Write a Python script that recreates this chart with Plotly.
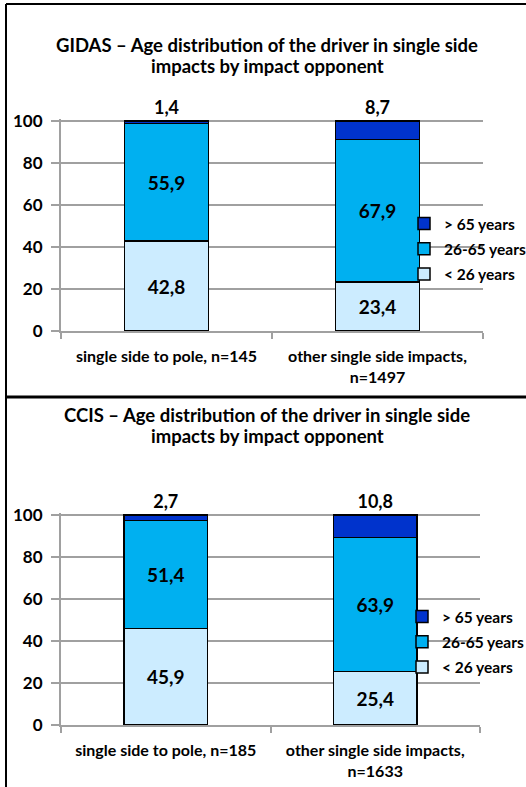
import plotly.graph_objects as go

W, H = 526, 787

categories_gidas = ["single side to pole, n=145", "other single side impacts,<br>n=1497"]
categories_ccis = ["single side to pole, n=185", "other single side impacts,<br>n=1633"]
series_names = ["< 26 years", "26-65 years", "> 65 years"]
gidas_young = [42.8, 23.4]
gidas_mid = [55.9, 67.9]
gidas_old = [1.4, 8.7]
ccis_young = [45.9, 25.4]
ccis_mid = [51.4, 63.9]
ccis_old = [2.7, 10.8]
colors = ["#CCECFF", "#00B0F0", "#0033CC"]
title_lines = [
    ("GIDAS – Age distribution of the driver in single side", "impacts by impact opponent"),
    ("CCIS – Age distribution of the driver in single side", "impacts by impact opponent"),
]

FONT = "Lato"

def px_x(p):
    return p / W

def px_y(p):
    return 1 - p / H

fig = go.Figure()

panels = [
    (categories_gidas, [gidas_young, gidas_mid, gidas_old], "x", "y", "legend"),
    (categories_ccis, [ccis_young, ccis_mid, ccis_old], "x2", "y2", "legend2"),
]

for cats, series, xa, ya, lg in panels:
    for i, (name, vals) in enumerate(zip(series_names, series)):
        top = i == 2
        fig.add_trace(go.Bar(
            x=cats, y=vals, name=name,
            xaxis=xa, yaxis=ya, legend=lg, legendgroup=lg + name,
            legendrank=10 * (3 - i),
            marker=dict(color=colors[i], line=dict(color="black", width=1.5)),
            texttemplate="%{y:.1f}",
            textposition="outside" if top else "inside",
            insidetextanchor="middle",
            textfont=dict(family=FONT, size=19, color="black", weight="bold"),
            outsidetextfont=dict(family=FONT, size=18, color="black", weight="bold"),
            constraintext="none",
            cliponaxis=False,
            hoverinfo="skip",
        ))

grid = "#A0A0A0"
YMAX = 101
common_y = dict(
    range=[0, YMAX], tickvals=[0, 20, 40, 60, 80, 100], showgrid=True, gridcolor=grid, gridwidth=2,
    showline=True, linecolor=grid, linewidth=2, ticks="outside", ticklen=8,
    tickcolor=grid, tickwidth=2, zeroline=False, automargin=False,
    tickfont=dict(family=FONT, size=17, color="black", weight="bold"),
    ticklabelstandoff=5,
)
common_x = dict(
    range=[-0.5, 1.5], showline=True, linecolor=grid, linewidth=2,
    ticks="outside", tickson="boundaries", ticklen=6, tickcolor=grid, tickwidth=2,
    tickfont=dict(family=FONT, size=16, color="black", weight="bold"),
    ticklabelstandoff=10, automargin=False, showgrid=False,
)

def ydom(p0, p100):
    # keep value 100 at pixel p100 while the range reaches YMAX
    unit = (p0 - p100) / 100
    return [px_y(p0), px_y(p0 - unit * YMAX)]

leg = dict(xanchor="left", yanchor="top", traceorder="grouped", tracegroupgap=2,
           bgcolor="rgba(0,0,0,0)", itemwidth=30,
           font=dict(family=FONT, size=15.5, color="black", weight="bold"))

fig.update_layout(
    template="none",
    width=W, height=H, margin=dict(l=0, r=0, t=0, b=0, pad=0, autoexpand=False),
    paper_bgcolor="white", plot_bgcolor="white",
    barmode="stack", bargap=0.6, separators=",.",
    showlegend=True,
    xaxis=dict(domain=[px_x(61), px_x(483)], anchor="y", **common_x),
    yaxis=dict(domain=ydom(331, 121), anchor="x", **common_y),
    xaxis2=dict(domain=[px_x(61), px_x(480)], anchor="y2", **common_x),
    yaxis2=dict(domain=ydom(725, 515), anchor="x2", **common_y),
    legend=dict(x=px_x(404), y=px_y(207), **leg),
    legend2=dict(x=px_x(402), y=px_y(600), **leg),
    font=dict(family=FONT),
)

for (l1, l2), (y1, y2) in zip(title_lines, [(45, 66), (415, 436)]):
    for txt, yc in ((l1, y1), (l2, y2)):
        fig.add_annotation(text=txt, x=px_x(267), y=px_y(yc), xref="paper", yref="paper",
                           xanchor="center", yanchor="middle", showarrow=False,
                           font=dict(family=FONT, size=18.5, color="black", weight="bold"))

border = dict(color="black", width=2)
fig.add_shape(type="line", xref="paper", yref="paper", x0=px_x(6), x1=1, y0=px_y(4), y1=px_y(4), line=border)
fig.add_shape(type="line", xref="paper", yref="paper", x0=px_x(6), x1=px_x(6), y0=px_y(4), y1=0, line=border)
fig.add_shape(type="line", xref="paper", yref="paper", x0=px_x(6), x1=1, y0=px_y(397), y1=px_y(397), line=dict(color="black", width=3))

fig.write_html("out.html", config={"displayModeBar": False},
               post_script="document.body.style.margin='0';document.body.style.overflow='hidden';")
